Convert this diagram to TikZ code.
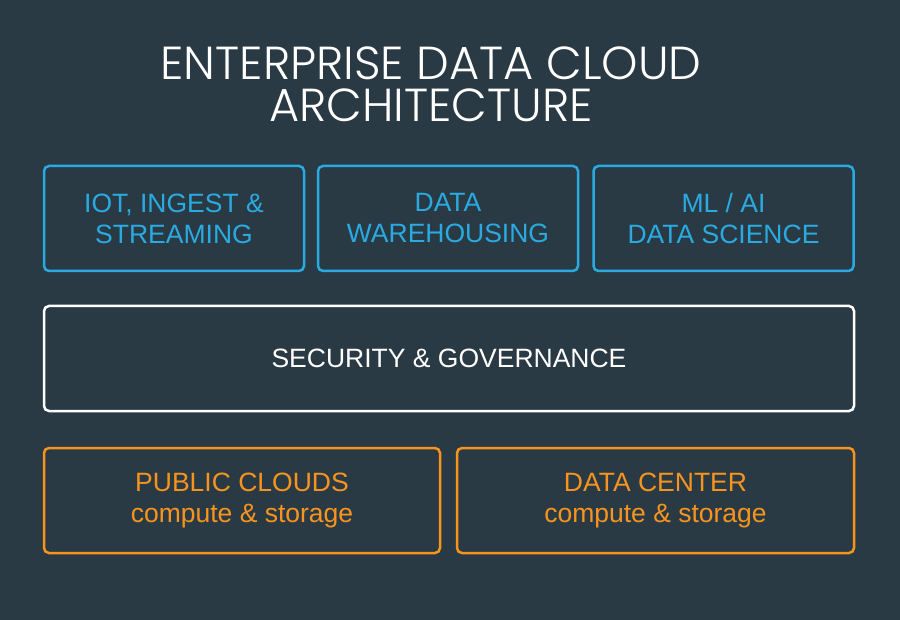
\documentclass[tikz,border=0pt]{standalone}
\usepackage{fontspec}
\setmainfont{Liberation Sans}
\newfontfamily\titlefont{Poppins Light}
\usetikzlibrary{positioning}

\definecolor{bgslate}{HTML}{2A3A44}
\definecolor{edcblue}{HTML}{29ABE2}
\definecolor{edcorange}{HTML}{F7941D}

\begin{document}
\begin{tikzpicture}[
    x=1pt, y=-1pt,
    layer/.style={draw, rounded corners=5pt, line width=2.5pt, minimum height=105pt, align=center, font=\fontsize{26.5}{31}\selectfont},
    service/.style={layer, draw=edcblue, text=edcblue, minimum width=260pt},
    infra/.style={layer, draw=edcorange, text=edcorange, minimum width=396pt}
]
\fill[bgslate] (0,0) rectangle (900,620);
\useasboundingbox (0,0) rectangle (900,620);
\node[align=center, text=white, font=\titlefont\fontsize{46.3}{42}\selectfont] (title) at (431,84) {ENTERPRISE DATA CLOUD\\ARCHITECTURE};
% service row
\node[service] (iot) at (174,218.5) {IOT, INGEST \&\\STREAMING};
\node[service] (dwh) at (448,218.5) {DATA\\WAREHOUSING};
\node[service] (mlai) at (723.5,218.5) {ML / AI\\DATA SCIENCE};
% security layer
\node[layer, draw=white, text=white, minimum width=810pt] (secgov) at (449,358.5) {SECURITY \& GOVERNANCE};
% infrastructure row
\node[infra] (pubcloud) at (242,500.5) {PUBLIC CLOUDS\\compute \& storage};
\node[infra, minimum width=397pt] (datacenter) at (655.5,500.5) {DATA CENTER\\compute \& storage};
\end{tikzpicture}
\end{document}
